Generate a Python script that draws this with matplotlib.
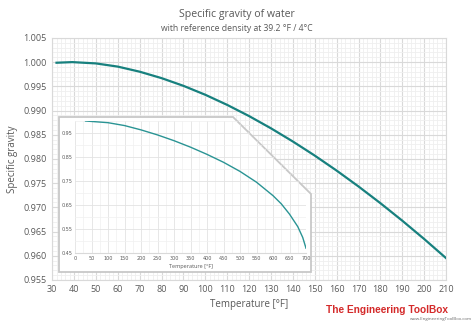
import matplotlib
matplotlib.use("Agg")
import matplotlib.pyplot as plt
from matplotlib.ticker import MultipleLocator, AutoMinorLocator
from matplotlib.patches import Polygon

# main chart: specific gravity vs temperature (F)
temp_f = [32, 39.2, 50, 60, 70, 80, 90, 100, 110, 120, 130, 140, 150,
          160, 170, 180, 190, 200, 210]
sg = [0.99987, 1.00000, 0.99973, 0.99907, 0.99802, 0.99669, 0.99510,
      0.99325, 0.99116, 0.98885, 0.98632, 0.98360, 0.98069, 0.97759,
      0.97431, 0.97086, 0.96724, 0.96346, 0.95951]

# inset: wider range up to 700 F
inset_t = [32, 100, 150, 200, 250, 300, 350, 400, 450, 500, 550, 600,
           625, 650, 675, 690, 700]
inset_sg = [1.000, 0.993, 0.981, 0.963, 0.942, 0.918, 0.891, 0.861,
            0.828, 0.790, 0.745, 0.689, 0.655, 0.612, 0.560, 0.515, 0.470]

grey = "#595959"
teal = "#17807e"
font = "Open Sans"
W, H = 474, 324

fig = plt.figure(figsize=(4.74, 3.24), dpi=100)
rect = [0.11, 0.136, 0.831, 0.747]
ax = fig.add_axes(rect)
ax.set_xlim(30, 210)
ax.set_ylim(0.955, 1.005)
ax.xaxis.set_major_locator(MultipleLocator(10))
ax.yaxis.set_major_locator(MultipleLocator(0.005))
ax.xaxis.set_minor_locator(AutoMinorLocator(5))
ax.yaxis.set_minor_locator(AutoMinorLocator(5))
ax.yaxis.set_major_formatter(plt.FormatStrFormatter("%.3f"))
ax.grid(which="major", color="#d9d9d9", lw=0.8)
ax.grid(which="minor", color="#efefef", lw=0.6)
ax.set_axisbelow(True)
for s in ax.spines.values():
    s.set_color("#d9d9d9")
ax.tick_params(which="both", length=0, colors=grey, labelsize=6.5, pad=4)
for lab in ax.get_xticklabels() + ax.get_yticklabels():
    lab.set_fontfamily(font)
ax.set_xlabel("Temperature [°F]", color=grey, fontsize=7, family=font, labelpad=3)
ax.set_ylabel("Specific gravity", color=grey, fontsize=7, family=font, labelpad=4)

fig.text(0.5, 0.955, "Specific gravity of water", ha="center", va="center",
         color=grey, fontsize=7.6, family=font)
fig.text(0.5, 0.912, "with reference density at 39.2 °F / 4°C", ha="center",
         va="center", color=grey, fontsize=6.2, family=font)

# inset frame with cut corner (pixel coords -> figure fraction)
pts = [(59, 117), (233, 117), (311, 194), (311, 272), (59, 272)]
frame = Polygon([(x / W, 1 - y / H) for x, y in pts], closed=True,
                transform=fig.transFigure, facecolor="white",
                edgecolor="#c8c8c8", lw=1.3, zorder=3)
fig.patches.append(frame)

ins = fig.add_axes([75 / W, 1 - 253 / H, (306 - 75) / W, (253 - 121) / H],
                   zorder=4)
ins.patch.set_alpha(0)
ins.plot(inset_t, inset_sg, color="#2a9494", lw=1.0)
ins.set_xlim(0, 700)
ins.set_ylim(0.45, 1.0)
ins.xaxis.set_major_locator(MultipleLocator(50))
ins.set_yticks([0.45, 0.55, 0.65, 0.75, 0.85, 0.95])
ins.yaxis.set_minor_locator(MultipleLocator(0.05))
ins.xaxis.set_minor_locator(AutoMinorLocator(2))
ins.grid(which="major", color="#e3e3e3", lw=0.6)
ins.grid(which="minor", color="#f0f0f0", lw=0.5)
for s in ins.spines.values():
    s.set_visible(False)
ins.spines["bottom"].set_visible(True)
ins.spines["bottom"].set_color("#d9d9d9")
ins.tick_params(which="both", length=0, colors=grey, labelsize=3.5, pad=2)
ins.set_xlabel("Temperature [°F]", color=grey, fontsize=4, family=font, labelpad=2)
# keep inset grid inside the cut-corner frame
ins.xaxis.set_clip_path(frame)
ins.yaxis.set_clip_path(frame)

# main curve on top of the inset frame
top = fig.add_axes(rect, zorder=5, sharex=ax, sharey=ax)
top.patch.set_alpha(0)
top.axis("off")
top.plot(temp_f, sg, color=teal, lw=1.6)

fig.text(0.945, 0.043, "The Engineering ToolBox", ha="right", va="center",
         color="#d42a2a", fontsize=7.3, fontweight="bold",
         family="Liberation Sans")
fig.text(0.996, 0.015, "www.EngineeringToolBox.com", ha="right", va="center",
         color="#666666", fontsize=3.2, family=font)

fig.savefig("out.png", dpi=100)
